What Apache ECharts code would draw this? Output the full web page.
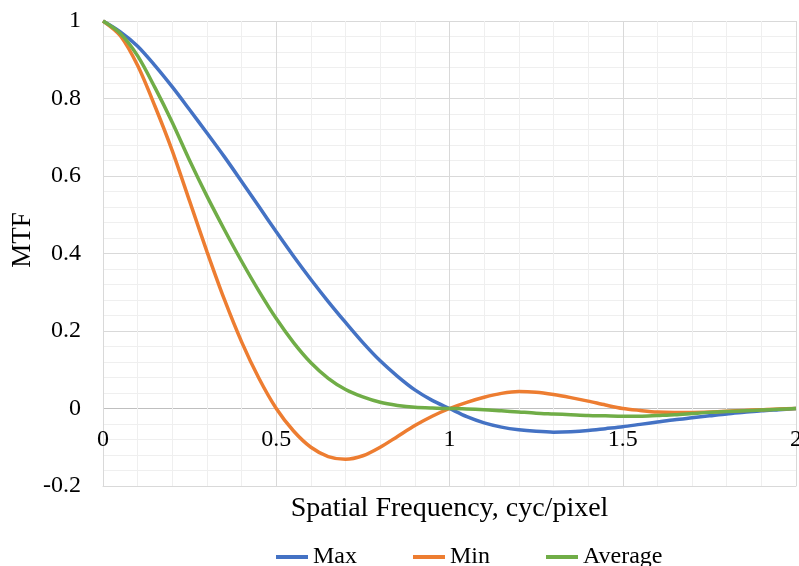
<!DOCTYPE html>
<html>
<head>
<meta charset="utf-8">
<script src="https://cdn.jsdelivr.net/npm/echarts@6/dist/echarts.min.js"></script>
<style>
  html, body { margin: 0; padding: 0; background: #ffffff; }
  #chart { width: 799px; height: 566px; }
</style>
</head>
<body>
<div id="chart"></div>
<script>
// Spatial frequency samples (cyc/pixel)
const freq = [0, 0.05, 0.1, 0.15, 0.2, 0.25, 0.3, 0.35, 0.4, 0.45, 0.5, 0.55, 0.6, 0.65, 0.7, 0.75, 0.8, 0.85, 0.9, 0.95,
              1.0, 1.05, 1.1, 1.15, 1.2, 1.25, 1.3, 1.35, 1.4, 1.45, 1.5, 1.55, 1.6, 1.65, 1.7, 1.75, 1.8, 1.85, 1.9, 1.95, 2.0];

// MTF curves
const mtfMax = [1, 0.972, 0.935, 0.885, 0.83, 0.771, 0.711, 0.65, 0.586, 0.521, 0.456, 0.393, 0.333, 0.276, 0.222, 0.17, 0.123, 0.083, 0.048, 0.021,
                0, -0.021, -0.037, -0.048, -0.055, -0.059, -0.061, -0.06, -0.057, -0.052, -0.047, -0.041, -0.035, -0.029, -0.024, -0.019, -0.014, -0.01, -0.006, -0.003, 0];
const mtfMin = [1, 0.962, 0.885, 0.78, 0.665, 0.535, 0.405, 0.282, 0.172, 0.078, 0.0, -0.058, -0.1, -0.124, -0.131, -0.122, -0.1, -0.072, -0.044, -0.02,
                0, 0.016, 0.029, 0.039, 0.044, 0.042, 0.036, 0.028, 0.019, 0.009, 0.0, -0.005, -0.009, -0.01, -0.01, -0.009, -0.007, -0.005, -0.003, -0.001, 0];
const mtfAvg = [1, 0.968, 0.91, 0.828, 0.738, 0.64, 0.548, 0.462, 0.38, 0.303, 0.232, 0.17, 0.118, 0.078, 0.049, 0.03, 0.016, 0.008, 0.003, 0.001,
                0, -0.001, -0.003, -0.006, -0.009, -0.012, -0.014, -0.016, -0.018, -0.019, -0.02, -0.02, -0.018, -0.016, -0.013, -0.01, -0.008, -0.006, -0.004, -0.002, 0];

const seriesNames = ['Max', 'Min', 'Average'];
const seriesColors = ['#4472C4', '#ED7D31', '#70AD47'];
const seriesValues = [mtfMax, mtfMin, mtfAvg];

const fontFamily = '"Liberation Serif", "Times New Roman", serif';
const textColor = '#000000';
const gridMajor = '#d9d9d9';
const zeroLine = '#bfbfbf';

const pairs = vals => freq.map((x, i) => [x, vals[i]]);

const chart = echarts.init(document.getElementById('chart'));
chart.setOption({
  animation: false,
  backgroundColor: '#ffffff',
  grid: { left: 103, right: 3, top: 21, bottom: 80, containLabel: false, outerBoundsMode: 'none' },
  xAxis: {
    type: 'value',
    min: 0, max: 2, interval: 0.5,
    name: 'Spatial Frequency, cyc/pixel',
    nameLocation: 'middle',
    nameGap: 9,
    nameTextStyle: { fontFamily, fontSize: 28, color: textColor },
    // tick labels sit just under the zero line, between 0 and -0.2
    axisLine: { show: true, onZero: false, lineStyle: { color: gridMajor, width: 1 } },
    axisTick: { show: false },
    axisLabel: { fontFamily, fontSize: 24, color: textColor, margin: -58 },
    splitLine: { show: true, lineStyle: { color: gridMajor, width: 1 } },
    minorTick: { show: false, splitNumber: 5 },
    minorSplitLine: { show: true, lineStyle: { color: '#efefef', width: 1 } }
  },
  yAxis: {
    type: 'value',
    min: -0.2, max: 1, interval: 0.2,
    axisLine: { show: true, lineStyle: { color: gridMajor, width: 1 } },
    axisTick: { show: false },
    axisLabel: { fontFamily, fontSize: 24, color: textColor, margin: 22 },
    // the line at MTF = 0 is drawn a shade darker
    splitLine: { show: true, lineStyle: { color: [gridMajor, zeroLine, gridMajor, gridMajor, gridMajor, gridMajor, gridMajor], width: 1 } },
    minorTick: { show: false, splitNumber: 5 },
    minorSplitLine: { show: true, lineStyle: { color: '#efefef', width: 1 } }
  },
  legend: {
    data: seriesNames,
    left: 271, top: 540,
    icon: 'rect',
    itemWidth: 32, itemHeight: 4,
    itemGap: 56,
    textStyle: { fontFamily, fontSize: 24, color: textColor }
  },
  graphic: [{
    type: 'text',
    x: 23, y: 240,
    rotation: Math.PI / 2,
    style: {
      text: 'MTF',
      fontFamily, fontSize: 27, fill: textColor,
      align: 'center', verticalAlign: 'middle'
    }
  }],
  series: seriesNames.map((name, k) => ({
    name,
    type: 'line',
    data: pairs(seriesValues[k]),
    smooth: 0.3,
    symbol: 'none',
    color: seriesColors[k],
    lineStyle: { color: seriesColors[k], width: 3.5 }
  }))
});
</script>
</body>
</html>
